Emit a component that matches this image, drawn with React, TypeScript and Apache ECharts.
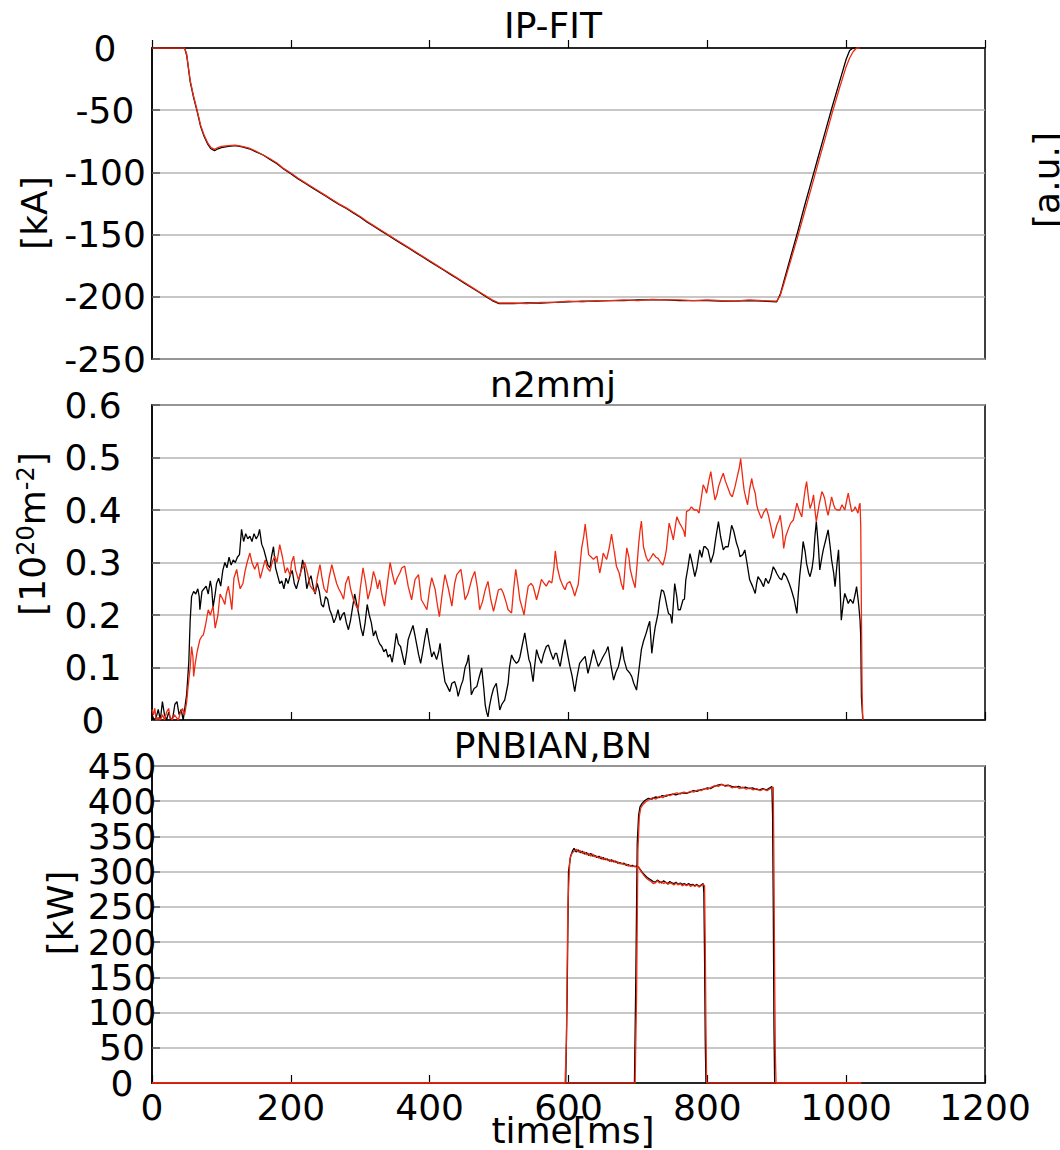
import React, { useEffect, useRef } from "react";
import * as echarts from "echarts";

// ---------- DATA ----------
const xTicks = [0, 200, 400, 600, 800, 1000, 1200];

// IP-FIT [kA]
const ipTime = [0, 20, 40, 47, 50, 55, 60, 65, 70, 75, 80, 85, 90, 95, 100,
  110, 120, 130, 140, 150, 160, 170, 180, 190, 200,
  210, 220, 230, 240, 250, 260, 270, 280, 290, 300,
  310, 320, 330, 340, 350, 360, 370, 380, 390, 400,
  410, 420, 430, 440, 450, 460, 470, 480, 490, 500,
  520, 540, 560, 580, 600, 620, 640, 660, 680, 700, 720, 740, 760, 780, 800, 820, 840, 860, 880, 900,
  905, 910, 920, 930, 940, 950, 960, 970, 980, 990, 1000, 1005, 1010, 1015, 1020];
const ipBlack = [0, 0, 0, 0, -6, -27, -40, -51, -63, -71, -77, -81, -82.5, -81, -80,
  -79, -78.5, -79.5, -81, -83.5, -86, -89.5, -93, -97.5, -101,
  -105, -108.5, -112, -115.5, -119, -122.5, -126, -129, -132.5, -136,
  -140, -143.5, -147, -150.5, -154, -157.5, -161, -164.5, -168, -171.5,
  -175, -178.5, -182, -185.5, -189, -192.5, -196, -199.5, -203, -205.5,
  -205.5, -205, -205, -204.5, -204, -203.5, -203.5, -203, -203, -202.5, -202.5, -202.5, -203, -203, -203, -203.5, -203.5, -203, -203.5, -204,
  -198, -188, -168, -148, -127, -107, -87, -67, -47, -28, -9, -2, 0, 0, 0];
const ipRed = [0, 0, 0, 0, -5, -26, -39, -50, -62, -70, -76, -80, -81.5, -80, -79,
  -78.5, -78, -79, -80.5, -83, -86, -89, -92.5, -97, -100.5,
  -104.5, -108, -111.5, -115, -118.5, -122, -125.5, -128.5, -132, -135.5,
  -139.5, -143, -146.5, -150, -153.5, -157, -160.5, -164, -167.5, -171,
  -174.5, -178, -181.5, -185, -188.5, -192, -195.5, -199, -202.5, -205,
  -205, -205.5, -204.5, -204.5, -203.5, -204, -203, -203, -202.5, -203, -202, -202.5, -202.5, -203, -202.5, -203, -203.5, -202.5, -203, -203.5,
  -199, -190, -171, -152, -132, -112, -92, -72, -52, -33, -15, -8, -3, 0, 0];

// n2mmj [1e20 m^-2]  (time, value)
const n2Black: [number, number][] = [
  [0, 0.01], [3, 0.0], [6, 0.005], [9, 0.02], [12, 0.0], [15, 0.035], [18, 0.01], [21, 0.0], [24, 0.015], [27, 0.0],
  [30, 0.005], [33, 0.03], [36, 0.035], [39, 0.01], [42, 0.02], [45, 0.0], [47, 0.02],
  [50, 0.05], [53, 0.11], [55, 0.19], [57, 0.235], [60, 0.245], [63, 0.24], [66, 0.25], [68, 0.235], [69, 0.21],
  [72, 0.245], [75, 0.25], [78, 0.255], [81, 0.24], [84, 0.265], [86, 0.25], [88, 0.215], [91, 0.24], [93, 0.26],
  [96, 0.27], [99, 0.255], [102, 0.285], [105, 0.3], [108, 0.29], [111, 0.31], [114, 0.295], [117, 0.305], [120, 0.3],
  [123, 0.31], [126, 0.315], [129, 0.363], [132, 0.34], [135, 0.355], [138, 0.345], [141, 0.35], [144, 0.34],
  [147, 0.355], [150, 0.345], [153, 0.352], [155, 0.363], [158, 0.335], [161, 0.325], [164, 0.31], [167, 0.295],
  [170, 0.29], [172, 0.31], [175, 0.33], [178, 0.29], [181, 0.275], [184, 0.26], [187, 0.265], [190, 0.25], [193, 0.27],
  [196, 0.26], [199, 0.275], [202, 0.285], [205, 0.26], [208, 0.25], [211, 0.265], [214, 0.28], [217, 0.305], [220, 0.285],
  [223, 0.25], [226, 0.265], [229, 0.275], [232, 0.255], [235, 0.24], [238, 0.26], [241, 0.245], [244, 0.22], [247, 0.215],
  [250, 0.235], [253, 0.23], [256, 0.21], [259, 0.2], [262, 0.185], [265, 0.195], [268, 0.21], [271, 0.19], [274, 0.2],
  [277, 0.205], [280, 0.185], [283, 0.172], [286, 0.19], [289, 0.215], [292, 0.24], [295, 0.22], [298, 0.2], [301, 0.175],
  [304, 0.16], [307, 0.185], [310, 0.22], [313, 0.2], [316, 0.185], [319, 0.16], [322, 0.17], [325, 0.155], [328, 0.145],
  [331, 0.14], [334, 0.13], [337, 0.135], [340, 0.12], [343, 0.125], [346, 0.11], [349, 0.135], [352, 0.165], [355, 0.145],
  [358, 0.14], [364, 0.105], [367, 0.13], [369, 0.153], [372, 0.165], [376, 0.18], [379, 0.16], [381, 0.146], [384, 0.125],
  [387, 0.108], [390, 0.13], [393, 0.155], [396, 0.175], [399, 0.15], [403, 0.12], [406, 0.13], [410, 0.115], [413, 0.13],
  [415, 0.146], [418, 0.11], [422, 0.073], [425, 0.065], [429, 0.054], [432, 0.07], [436, 0.073], [439, 0.06], [441, 0.045],
  [445, 0.065], [448, 0.076], [451, 0.1], [454, 0.11], [456, 0.124], [458, 0.09], [460, 0.048], [464, 0.06], [468, 0.064],
  [471, 0.08], [475, 0.099], [478, 0.06], [480, 0.029], [482, 0.015], [484, 0.006], [486, 0.025], [489, 0.045], [492, 0.06],
  [496, 0.07], [499, 0.04], [501, 0.019], [504, 0.03], [508, 0.038], [510, 0.05], [513, 0.07], [515, 0.1], [518, 0.124],
  [521, 0.115], [525, 0.108], [528, 0.112], [530, 0.12], [533, 0.14], [537, 0.166], [540, 0.14], [543, 0.115], [545, 0.108],
  [547, 0.09], [549, 0.073], [551, 0.1], [554, 0.134], [557, 0.12], [561, 0.108], [564, 0.125], [568, 0.14], [571, 0.143],
  [574, 0.13], [578, 0.115], [581, 0.127], [583, 0.127], [586, 0.11], [588, 0.102], [591, 0.125], [595, 0.153], [598, 0.13],
  [602, 0.102], [605, 0.085], [609, 0.054], [612, 0.08], [616, 0.108], [620, 0.115], [624, 0.121], [626, 0.105], [628, 0.089],
  [632, 0.11], [636, 0.134], [640, 0.115], [643, 0.102], [646, 0.11], [650, 0.121], [654, 0.13], [657, 0.14], [661, 0.105],
  [665, 0.076], [668, 0.09], [672, 0.102], [675, 0.12], [677, 0.14], [680, 0.115], [684, 0.096], [688, 0.09], [691, 0.083],
  [694, 0.07], [698, 0.057], [701, 0.09], [705, 0.134], [708, 0.15], [712, 0.166], [715, 0.18], [717, 0.188],
  [720, 0.127], [723, 0.16], [725, 0.178], [727, 0.19], [729, 0.203], [731, 0.225], [734, 0.248], [737, 0.245], [739, 0.235],
  [742, 0.215], [744, 0.203], [747, 0.2], [749, 0.184], [751, 0.22], [753, 0.26], [756, 0.235], [758, 0.21], [761, 0.21],
  [765, 0.229], [767, 0.23], [769, 0.267], [772, 0.29], [775, 0.317], [778, 0.3], [782, 0.273], [785, 0.29], [789, 0.324],
  [792, 0.31], [795, 0.33], [797, 0.33], [801, 0.324], [805, 0.3], [809, 0.317], [812, 0.345], [816, 0.378], [819, 0.35],
  [823, 0.324], [826, 0.33], [830, 0.33], [832, 0.345], [835, 0.371], [838, 0.36], [842, 0.337], [845, 0.325], [847, 0.311],
  [851, 0.315], [854, 0.324], [857, 0.3], [861, 0.267], [865, 0.255], [869, 0.241], [871, 0.26], [873, 0.273], [877, 0.265],
  [881, 0.254], [884, 0.27], [888, 0.26], [891, 0.27], [895, 0.292], [898, 0.285], [900, 0.279], [904, 0.27], [907, 0.267],
  [910, 0.28], [914, 0.273], [918, 0.26], [921, 0.248], [925, 0.23], [929, 0.203], [931, 0.24], [933, 0.273], [936, 0.31],
  [938, 0.34], [941, 0.32], [943, 0.298], [946, 0.28], [948, 0.273], [951, 0.29], [953, 0.311], [955, 0.35], [957, 0.378],
  [960, 0.33], [962, 0.286], [965, 0.31], [967, 0.324], [970, 0.34], [974, 0.362], [977, 0.33], [979, 0.305], [982, 0.28],
  [984, 0.254], [987, 0.3], [989, 0.324], [991, 0.26], [993, 0.19], [996, 0.225], [998, 0.241], [1001, 0.23], [1003, 0.222],
  [1006, 0.23], [1010, 0.222], [1013, 0.24], [1015, 0.254], [1018, 0.22], [1020, 0.19], [1021, 0.159], [1022, 0.044], [1024, 0.0]
];
const n2Red: [number, number][] = [
  [0, 0.02], [2, 0.01], [4, 0.022], [6, 0.0], [9, 0.005], [12, 0.0], [15, 0.01], [18, 0.0], [21, 0.015], [24, 0.022],
  [26, 0.005], [29, 0.0], [32, 0.01], [35, 0.005], [38, 0.0], [41, 0.015], [44, 0.022], [47, 0.01],
  [50, 0.035], [52, 0.064], [55, 0.1], [57, 0.14], [59, 0.12], [60, 0.083], [62, 0.105], [65, 0.13], [69, 0.153], [72, 0.16],
  [74, 0.162], [77, 0.18], [81, 0.21], [84, 0.2], [88, 0.217], [91, 0.175], [95, 0.2], [98, 0.24], [102, 0.23], [105, 0.22],
  [107, 0.24], [110, 0.255], [113, 0.23], [115, 0.21], [118, 0.27], [122, 0.287], [124, 0.27], [127, 0.25], [131, 0.26],
  [134, 0.283], [137, 0.3], [141, 0.318], [144, 0.3], [148, 0.287], [152, 0.3], [156, 0.27], [159, 0.285], [163, 0.305],
  [166, 0.29], [170, 0.283], [173, 0.3], [177, 0.312], [180, 0.3], [184, 0.334], [188, 0.31], [192, 0.28], [195, 0.29],
  [199, 0.275], [201, 0.3], [204, 0.312], [207, 0.285], [211, 0.267], [215, 0.285], [220, 0.3], [224, 0.28], [228, 0.255],
  [231, 0.25], [235, 0.242], [238, 0.27], [242, 0.296], [245, 0.27], [248, 0.25], [252, 0.242], [255, 0.27], [259, 0.296],
  [262, 0.28], [266, 0.26], [269, 0.25], [273, 0.24], [276, 0.23], [279, 0.26], [283, 0.274], [286, 0.25], [290, 0.23],
  [293, 0.22], [297, 0.21], [300, 0.25], [304, 0.29], [308, 0.26], [311, 0.23], [315, 0.25], [319, 0.283], [322, 0.27],
  [325, 0.25], [328, 0.267], [331, 0.24], [335, 0.217], [339, 0.26], [343, 0.3], [346, 0.28], [350, 0.258], [353, 0.27],
  [357, 0.28], [360, 0.29], [364, 0.293], [369, 0.255], [374, 0.229], [379, 0.268], [384, 0.277], [388, 0.229], [392, 0.22],
  [396, 0.21], [400, 0.25], [403, 0.271], [408, 0.248], [411, 0.22], [414, 0.197], [418, 0.24], [422, 0.277], [427, 0.25],
  [432, 0.217], [436, 0.26], [439, 0.277], [445, 0.287], [448, 0.26], [451, 0.229], [455, 0.24], [458, 0.255], [461, 0.27],
  [465, 0.283], [469, 0.25], [472, 0.21], [476, 0.225], [480, 0.248], [484, 0.264], [488, 0.23], [492, 0.207], [496, 0.23],
  [499, 0.248], [503, 0.25], [506, 0.242], [510, 0.225], [513, 0.21], [518, 0.204], [521, 0.25], [524, 0.287], [527, 0.26],
  [530, 0.229], [533, 0.215], [536, 0.2], [539, 0.23], [542, 0.255], [546, 0.26], [549, 0.255], [552, 0.24], [554, 0.229],
  [558, 0.25], [561, 0.268], [565, 0.26], [568, 0.255], [572, 0.265], [576, 0.261], [579, 0.29], [581, 0.322], [584, 0.29],
  [588, 0.268], [592, 0.255], [595, 0.248], [598, 0.26], [602, 0.264], [606, 0.25], [609, 0.236], [612, 0.25], [614, 0.258],
  [617, 0.3], [619, 0.328], [622, 0.35], [624, 0.373], [627, 0.34], [629, 0.315], [633, 0.31], [636, 0.306], [639, 0.31],
  [641, 0.312], [643, 0.295], [645, 0.28], [648, 0.3], [650, 0.318], [653, 0.31], [655, 0.306], [659, 0.33], [662, 0.354],
  [666, 0.32], [669, 0.293], [673, 0.28], [676, 0.26], [679, 0.248], [682, 0.3], [684, 0.328], [687, 0.31], [689, 0.287],
  [692, 0.27], [696, 0.252], [699, 0.3], [701, 0.334], [703, 0.36], [705, 0.379], [708, 0.33], [712, 0.31], [715, 0.302],
  [719, 0.31], [722, 0.317], [726, 0.31], [729, 0.308], [733, 0.3], [736, 0.295], [739, 0.31], [741, 0.324], [743, 0.35],
  [745, 0.375], [748, 0.36], [751, 0.343], [754, 0.37], [756, 0.387], [760, 0.375], [763, 0.368], [766, 0.36], [768, 0.349],
  [770, 0.397], [774, 0.4], [777, 0.406], [781, 0.4], [785, 0.4], [788, 0.394], [791, 0.42], [794, 0.448], [797, 0.44],
  [799, 0.432], [802, 0.455], [805, 0.473], [808, 0.445], [811, 0.419], [814, 0.43], [816, 0.444], [820, 0.46], [823, 0.47],
  [826, 0.455], [830, 0.441], [833, 0.43], [836, 0.425], [840, 0.445], [843, 0.463], [846, 0.48], [848, 0.498], [851, 0.46],
  [853, 0.438], [856, 0.42], [858, 0.41], [861, 0.44], [864, 0.46], [866, 0.445], [869, 0.432], [871, 0.41], [873, 0.4],
  [876, 0.39], [878, 0.384], [881, 0.395], [885, 0.403], [888, 0.39], [890, 0.378], [893, 0.36], [895, 0.346], [898, 0.36],
  [900, 0.371], [903, 0.38], [905, 0.39], [908, 0.36], [910, 0.327], [913, 0.35], [917, 0.365], [920, 0.375], [924, 0.381],
  [927, 0.4], [929, 0.413], [932, 0.4], [936, 0.387], [939, 0.42], [941, 0.44], [943, 0.454], [946, 0.42], [948, 0.403],
  [951, 0.415], [953, 0.429], [955, 0.4], [957, 0.378], [961, 0.41], [965, 0.435], [967, 0.43], [969, 0.422], [972, 0.4],
  [974, 0.39], [977, 0.41], [979, 0.425], [982, 0.41], [984, 0.403], [987, 0.4], [991, 0.4], [994, 0.41], [998, 0.4],
  [1001, 0.42], [1003, 0.432], [1006, 0.41], [1008, 0.397], [1011, 0.4], [1013, 0.406], [1015, 0.4], [1017, 0.394],
  [1019, 0.41], [1020, 0.413], [1021, 0.368], [1022, 0.2], [1023, 0.05], [1024, 0.0]
];

// PNBIAN,BN [kW]  (time, value)
const nbiA_black: [number, number][] = [
  [0, 0], [596, 0], [598, 120], [600, 300], [603, 322], [606, 330], [608, 333], [611, 328], [614, 331], [617, 327], [620, 329],
  [623, 325], [626, 327], [629, 323], [632, 326], [635, 322], [638, 323], [641, 320], [644, 322], [647, 318], [650, 320],
  [653, 317], [656, 318], [659, 315], [662, 317], [665, 314], [668, 315], [671, 312], [674, 313], [677, 311], [680, 312],
  [683, 309], [686, 310], [689, 308], [692, 309], [695, 307], [698, 308], [701, 306], [704, 302], [707, 298], [710, 295],
  [713, 292], [716, 290], [719, 288], [722, 286], [725, 285], [728, 288], [731, 286], [734, 284], [737, 287], [740, 285],
  [743, 283], [746, 286], [749, 284], [752, 283], [755, 285], [758, 282], [761, 284], [764, 282], [767, 283], [770, 281],
  [773, 283], [776, 281], [779, 282], [782, 280], [785, 282], [788, 279], [791, 281], [794, 283], [795, 270], [796, 180],
  [797, 60], [798, 0], [1022, 0]
];
const nbiA_red: [number, number][] = [
  [0, 0], [595, 0], [597, 60], [599, 250], [602, 318], [605, 326], [608, 329], [611, 332], [614, 328], [617, 330], [620, 326],
  [623, 328], [626, 324], [629, 326], [632, 322], [635, 325], [638, 321], [641, 322], [644, 319], [647, 321], [650, 317],
  [653, 319], [656, 316], [659, 317], [662, 314], [665, 316], [668, 313], [671, 314], [674, 311], [677, 312], [680, 310],
  [683, 311], [686, 308], [689, 309], [692, 307], [695, 308], [698, 306], [701, 307], [704, 301], [707, 297], [710, 293],
  [713, 290], [716, 288], [719, 286], [722, 283], [725, 284], [728, 287], [731, 284], [734, 286], [737, 283], [740, 285],
  [743, 282], [746, 284], [749, 283], [752, 281], [755, 284], [758, 281], [761, 283], [764, 280], [767, 282], [770, 280],
  [773, 282], [776, 279], [779, 281], [782, 279], [785, 281], [788, 278], [791, 280], [794, 282], [796, 280], [797, 200],
  [798, 80], [799, 0], [1022, 0]
];
const nbiB_black: [number, number][] = [
  [0, 0], [695, 0], [697, 150], [699, 340], [701, 380], [703, 392], [706, 397], [710, 401], [715, 404], [720, 403],
  [725, 406], [730, 405], [735, 408], [740, 407], [745, 409], [750, 410], [755, 409], [760, 411], [765, 412], [770, 411],
  [775, 413], [780, 415], [785, 414], [790, 416], [795, 417], [800, 419], [805, 418], [810, 421], [815, 423], [820, 424],
  [825, 422], [830, 423], [835, 421], [840, 420], [845, 421], [850, 419], [855, 420], [860, 418], [865, 419], [870, 417],
  [875, 416], [880, 418], [885, 416], [890, 419], [893, 421], [894, 380], [895, 250], [896, 80], [897, 0], [1022, 0]
];
const nbiB_red: [number, number][] = [
  [0, 0], [696, 0], [698, 120], [700, 330], [702, 378], [704, 390], [707, 395], [711, 399], [716, 402], [721, 405],
  [726, 403], [731, 407], [736, 405], [741, 409], [746, 408], [751, 410], [756, 412], [761, 410], [766, 413], [771, 412],
  [776, 414], [781, 413], [786, 416], [791, 415], [796, 418], [801, 417], [806, 420], [811, 422], [816, 421], [821, 424],
  [826, 421], [831, 422], [836, 419], [841, 421], [846, 418], [851, 420], [856, 417], [861, 419], [866, 416], [871, 418],
  [876, 415], [881, 417], [886, 415], [891, 418], [895, 420], [896, 300], [897, 150], [898, 40], [899, 0], [1022, 0]
];

// ---------- STYLE ----------
const FONT = "DejaVu Sans";
const BLACK = "#000000";
const RED = "#ef2a12";
const GRIDC = "#b4b4b4";

function yAxisCfg(gridIndex: number, min: number, max: number, interval: number, margin: number,
  fmt?: (v: number) => string, showMinMax: boolean = true) {
  return {
    gridIndex, type: "value", min, max, interval,
    axisLine: { show: true, lineStyle: { color: "#000", width: 1.5 } },
    axisTick: { show: true, inside: true, length: 8, lineStyle: { color: "#555", width: 1.5 } },
    axisLabel: {
      show: true, fontSize: 36, fontFamily: FONT, color: "#000", align: "center", margin,
      showMinLabel: showMinMax, showMaxLabel: showMinMax, hideOverlap: false,
      formatter: fmt || ((v: number) => String(v)),
    },
    splitLine: { show: true, lineStyle: { color: GRIDC, width: 1.5 } },
  };
}

function xAxisCfg(gridIndex: number, position: string, inside: boolean, showLabels: boolean) {
  return {
    gridIndex, type: "value", min: xTicks[0], max: xTicks[xTicks.length - 1], interval: xTicks[1] - xTicks[0], position,
    axisLine: { show: true, onZero: false, lineStyle: { color: "#000", width: 1.5 } },
    axisTick: { show: true, inside, length: 8, lineStyle: { color: "#000", width: 1.2 } },
    axisLabel: {
      show: showLabels, fontSize: 36, fontFamily: FONT, color: "#000", margin: 6,
      showMinLabel: true, showMaxLabel: true, hideOverlap: false,
      formatter: (v: number) => String(v),
    },
    splitLine: { show: false },
  };
}

function lineSeries(name: string, data: any[], color: string, xi: number, yi: number) {
  return {
    name, type: "line", data, xAxisIndex: xi, yAxisIndex: yi,
    showSymbol: false, symbol: "none", smooth: false,
    lineStyle: { color, width: 1.3 }, itemStyle: { color },
    silent: true,
  };
}

function txt(text: string, x: number, y: number, rotation = 0, rich?: any) {
  return {
    type: "text", x, y, rotation,
    style: {
      text, fill: "#000", fontSize: 36, fontFamily: FONT,
      align: "center", verticalAlign: "middle", textAlign: "center", textVerticalAlign: "middle",
      rich,
    },
    silent: true,
  };
}

export default function App() {
  const ref = useRef<HTMLDivElement>(null);
  useEffect(() => {
    document.body.style.margin = "0";
    if (!ref.current) return;
    const chart = echarts.init(ref.current, undefined, { renderer: "svg" });
    const ipB = ipTime.map((t, i) => [t, ipBlack[i]]);
    const ipR = ipTime.map((t, i) => [t, ipRed[i]]);
    const gridBase = { left: 152, width: 833, show: true, borderColor: "#000", borderWidth: 1.5, containLabel: false };
    chart.setOption({
      animation: false,
      backgroundColor: "#fff",
      grid: [
        { ...gridBase, top: 48, height: 311 },
        { ...gridBase, top: 405, height: 315 },
        { ...gridBase, top: 766, height: 317 },
      ],
      xAxis: [
        xAxisCfg(0, "top", false, false),
        xAxisCfg(1, "bottom", true, false),
        xAxisCfg(2, "bottom", true, true),
      ],
      yAxis: [
        yAxisCfg(0, -250, 0, 50, 47),
        yAxisCfg(1, 0, 0.6, 0.1, 59, (v: number) => String(+v.toFixed(1))),
        // inner labels (50 .. 400) of the kW axis
        yAxisCfg(2, 0, 450, 50, 30, undefined, false),
        // end labels (0 and 450) of the same kW scale, drawn on a twin axis
        {
          gridIndex: 2, type: "value", min: 0, max: 450, interval: 450, position: "left", offset: 0,
          axisLine: { show: false }, axisTick: { show: false }, splitLine: { show: false },
          axisLabel: {
            show: true, fontSize: 36, fontFamily: FONT, color: "#000", align: "center", margin: 30,
            showMinLabel: true, showMaxLabel: true, formatter: (v: number) => String(v),
          },
        },
      ],
      series: [
        lineSeries("IP black", ipB, BLACK, 0, 0),
        lineSeries("IP red", ipR, RED, 0, 0),
        lineSeries("n2 black", n2Black, BLACK, 1, 1),
        lineSeries("n2 red", n2Red, RED, 1, 1),
        lineSeries("NBI A black", nbiA_black, BLACK, 2, 2),
        lineSeries("NBI B black", nbiB_black, BLACK, 2, 2),
        lineSeries("NBI A red", nbiA_red, RED, 2, 2),
        lineSeries("NBI B red", nbiB_red, RED, 2, 2),
      ],
      graphic: [
        txt("IP-FIT", 553, 25),
        txt("n2mmj", 553, 384),
        txt("PNBIAN,BN", 553, 745),
        txt("[kA]", 34, 213, Math.PI / 2),
        txt("[10{s|20}m{s|-2}]", 32, 534, Math.PI / 2, {
          s: { fontSize: 24, fontFamily: FONT, fill: "#000", color: "#000", verticalAlign: "top" },
        }),
        txt("[kW]", 60, 913, Math.PI / 2),
        txt("[a.u.]", 1046, 180, Math.PI / 2),
        txt("time[ms]", 573, 1130),
      ],
    });
    return () => chart.dispose();
  }, []);
  return <div ref={ref} style={{ width: 1060, height: 1150 }} />;
}
